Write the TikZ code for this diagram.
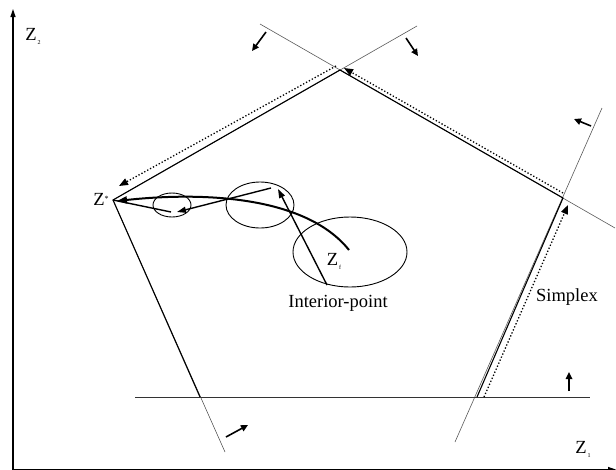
\documentclass[tikz,border=0pt]{standalone}
\usepackage{fontspec}
\setmainfont{Liberation Serif}
\usetikzlibrary{arrows.meta,shapes.geometric}

\newcommand{\zsub}[1]{Z\kern1pt\raisebox{-4pt}{\fontsize{6}{7}\selectfont #1}}

\begin{document}
\begin{tikzpicture}[x=1pt, y=-1pt,
      font=\fontsize{18.5}{22}\selectfont,
      eixo/.style={line width=1.2pt, -{Triangle[length=8pt,width=5pt]}},
      borda/.style={line width=1.1pt},
      restr/.style={line width=0.6pt, black!65},
      nrm/.style={line width=1.6pt, -{Triangle[length=7pt,width=6.5pt]}},
      simp/.style={dotted, line width=1.3pt, -{Triangle[length=9pt,width=7pt]}},
      passo/.style={line width=1.4pt, -{Triangle[length=9pt,width=6pt]}},
      trilha/.style={line width=2pt, -{Triangle[length=10pt,width=7pt]}},
      elip/.style={draw, ellipse, line width=0.9pt, inner sep=0pt},
      rot/.style={inner sep=0pt}
    ]
    \useasboundingbox (0,0) rectangle (616,469);

    % eixos
    \coordinate (o) at (13,469.5);
    \coordinate (ytip) at (13,9);
    \coordinate (xtip) at (616,469.5);
    \draw[eixo] (o) -- (ytip);
    \draw[eixo] (o) -- (xtip);
    \node[rot] (z2) at (33,36) {\zsub{2}};
    \node[rot] (z1) at (583,449) {\zsub{1}};

    % vertices
    \coordinate (zs) at (113,200);
    \coordinate (tv) at (340,70);
    \coordinate (rv) at (563,198);
    \coordinate (bv) at (477,397);
    \coordinate (lv) at (200,397);

    % restricoes
    \coordinate (b1) at (135,397);
    \coordinate (b2) at (590,397);
    \coordinate (l2) at (225,452);
    \coordinate (u1) at (417,26);
    \coordinate (r1) at (260,24);
    \coordinate (r2) at (615,228);
    \coordinate (q1) at (455,442);
    \coordinate (q2) at (602,108);
    \foreach \x/\y in {zs/l2, zs/u1, r1/r2, q1/q2} {\draw[restr] (\x) -- (\y);}
    \draw[restr, line width=0.9pt, black!80] (b1) -- (b2);

    \draw[borda] (lv) -- (zs) -- (tv) -- (rv) -- (bv);

    \foreach \i/\a/\b/\c/\d in {1/266/32/252/51, 2/406/38/418/56, 3/591/126/574/119,
                                4/569/391/569/372, 5/226/437/248/425}
      {\coordinate (n\i a) at (\a,\b);
       \coordinate (n\i b) at (\c,\d);
       \draw[nrm] (n\i a) -- (n\i b);}

    % simplex
    \coordinate (s0) at (484,397);
    \coordinate (s1) at (568,205);
    \coordinate (s2) at (563,193);
    \coordinate (s3) at (344,68);
    \coordinate (s4) at (336,66);
    \coordinate (s5) at (119,186);
    \foreach \x/\y in {s0/s1, s2/s3, s4/s5} {\draw[simp] (\x) -- (\y);}
    \node[rot] (smp) at (567,297) {Simplex};

    % ponto interior
    \node[elip, minimum width=38pt, minimum height=24pt] (e1) at (172,205) {};
    \node[elip, minimum width=68pt, minimum height=46pt] (e2) at (260,205) {};
    \node[elip, minimum width=114pt, minimum height=70pt] (e3) at (350,252) {};

    \coordinate (zf) at (349,250);
    \coordinate (zsp) at (117,201);
    \draw[trilha] (zf) .. controls (305,195) and (200,192) .. (zsp);

    \coordinate (p0) at (327,285);
    \coordinate (p1) at (278,189);
    \coordinate (p2) at (271,188);
    \coordinate (p3) at (177,212);
    \coordinate (p4) at (171,212);
    \draw[passo] (p0) -- (p1);
    \draw[passo] (p2) -- (p3);
    \draw[line width=1.4pt] (p4) -- (zs);

    \node[rot] (zfl) at (334,261) {\zsub{f}};
    \node[rot] (zsl) at (101,199) {Z\raisebox{4pt}{\fontsize{8}{8}\selectfont *}};
    \node[rot] (ipt) at (338,303) {Interior-point};
  \end{tikzpicture}
\end{document}
